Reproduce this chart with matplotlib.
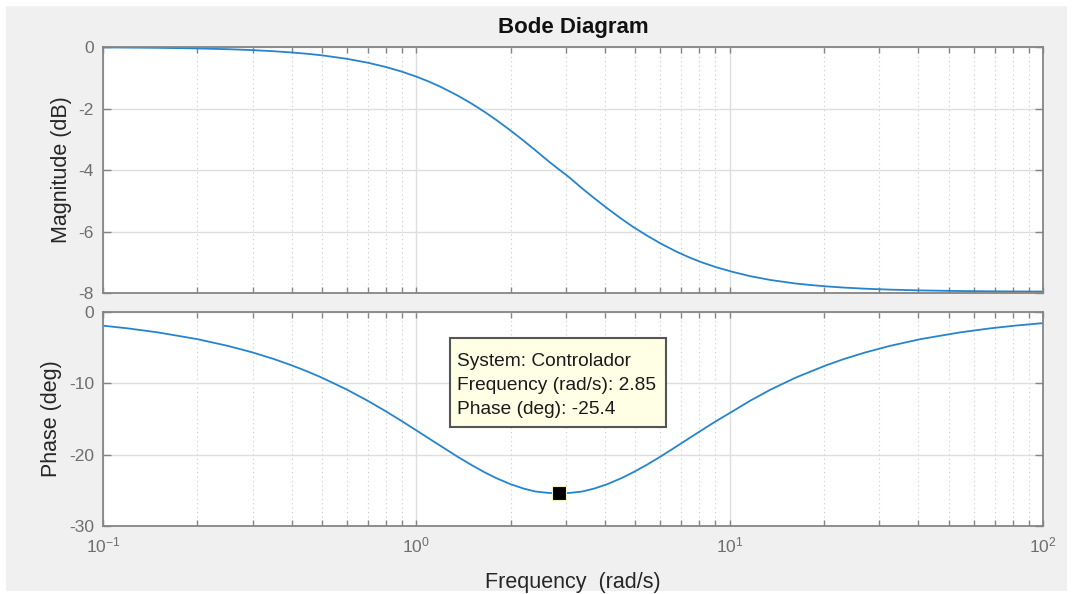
import numpy as np
import matplotlib
matplotlib.use('Agg')
import matplotlib.pyplot as plt
from matplotlib.patches import Rectangle

# Bode data (Controlador)
freq = [0.1, 0.12, 0.15, 0.2, 0.25, 0.3, 0.35, 0.4, 0.45, 0.5, 0.6, 0.7, 0.8, 0.9,
	1.0, 1.1, 1.2, 1.35, 1.5, 1.65, 1.8, 2.0, 2.2, 2.4, 2.65, 2.85,
	3.07, 3.38, 3.69, 4.06, 4.51, 4.92, 5.42, 6.02, 6.77, 7.38, 8.12, 9.03, 10.2,
	11.6, 13.5, 16.2, 18.1, 20.3, 23.2, 27.1, 32.5, 40.6, 54.2, 67.7, 81.2, 100.0]
mag_db = [-0.011, -0.016, -0.025, -0.045, -0.070, -0.100, -0.136, -0.176, -0.221,
	-0.270, -0.383, -0.510, -0.650, -0.802, -0.962, -1.130, -1.303, -1.570, -1.839,
	-2.108, -2.374, -2.719, -3.049, -3.362, -3.728, -3.980,
	-4.232, -4.598, -4.911, -5.241, -5.586, -5.852, -6.121, -6.390, -6.657, -6.830,
	-6.998, -7.158, -7.310, -7.450, -7.577, -7.690, -7.739, -7.784, -7.824, -7.860,
	-7.890, -7.915, -7.935, -7.944, -7.949, -7.952]
phase_deg = [-1.92, -2.30, -2.87, -3.81, -4.75, -5.67, -6.58, -7.48, -8.36, -9.22,
	-10.88, -12.46, -13.94, -15.32, -16.60, -17.77, -18.83, -20.26, -21.46, -22.47,
	-23.30, -24.15, -24.76, -25.17, -25.37, -25.40,
	-25.37, -25.17, -24.76, -24.15, -23.30, -22.47, -21.46, -20.26, -18.83, -17.77,
	-16.60, -15.32, -13.94, -12.46, -10.88, -9.22, -8.36, -7.48, -6.58, -5.67, -4.75,
	-3.81, -2.87, -2.30, -1.92, -1.56]

mag_ticks = [0, -2, -4, -6, -8]
phase_ticks = [0, -10, -20, -30]

# data tip
tip_freq = 2.85
tip_phase = -25.4
tip_lines = ['System: Controlador', 'Frequency (rad/s): 2.85', 'Phase (deg): -25.4']


def style_axes(ax, yticks, ylen):
	ax.set_xscale('log')
	ax.set_xlim(0.1, 100)
	ax.set_ylim(min(yticks), max(yticks))
	ax.set_yticks(yticks)
	ax.set_facecolor('white')
	for sp in ax.spines.values():
		sp.set_color('#858585')
		sp.set_linewidth(1.3)
	ax.xaxis.grid(True, which='major', color='#dedede', lw=1.0, ls='-')
	ax.xaxis.grid(True, which='minor', color='#c9c9c9', lw=0.8, ls=(0, (1, 3)))
	ax.yaxis.grid(True, which='major', color='#dedede', lw=1.0, ls='-')
	ax.tick_params(which='both', direction='in', top=True, right=True,
		colors='#858585', labelcolor='#6e6e6e', labelsize=12.5, width=1.0)
	ax.tick_params(axis='x', which='major', length=4)
	ax.tick_params(axis='x', which='minor', length=4)
	ax.tick_params(axis='y', which='major', length=ylen, pad=6.5)
	ax.tick_params(axis='y', which='minor', left=False, right=False)
	ax.set_axisbelow(True)


def main():
	plt.rcParams['font.family'] = ['Liberation Sans', 'DejaVu Sans']
	plt.rcParams['mathtext.fontset'] = 'custom'
	plt.rcParams['mathtext.rm'] = 'Liberation Sans'
	plt.rcParams['mathtext.default'] = 'regular'
	plt.rcParams['axes.unicode_minus'] = False

	fig = plt.figure(figsize=(10.87, 5.94), dpi=100)
	fig.patch.set_facecolor('white')
	fig.add_artist(Rectangle((0.0055, 0.005), 0.976, 0.985, transform=fig.transFigure,
		facecolor='#f0f0f0', edgecolor='none', zorder=-10))

	ax1 = fig.add_axes([0.0948, 0.5067, 0.8648, 0.4141])
	ax2 = fig.add_axes([0.0948, 0.1145, 0.8648, 0.3603])

	line_color = '#2684cc'
	ax1.plot(freq, mag_db, color=line_color, lw=1.3)
	ax2.plot(freq, phase_deg, color=line_color, lw=1.3)

	style_axes(ax1, mag_ticks, 6)
	style_axes(ax2, phase_ticks, 6)
	ax1.tick_params(axis='x', labelbottom=False)
	ax2.tick_params(axis='x', which='major', pad=6.5)

	ax1.set_ylabel('Magnitude (dB)', fontsize=15.5, color='#262626')
	ax2.set_ylabel('Phase (deg)', fontsize=15.5, color='#262626')
	ax1.yaxis.set_label_coords(-0.033, 0.5)
	ax2.yaxis.set_label_coords(-0.044, 0.5)
	ax2.set_xlabel('Frequency  (rad/s)', fontsize=15.5, color='#262626')
	ax2.xaxis.set_label_coords(0.5, -0.215)

	fig.text(0.527, 0.954, 'Bode Diagram', ha='center', va='center',
		fontsize=16, fontweight='bold', color='#111111')

	# data tip marker and box
	ax2.plot([tip_freq], [tip_phase], marker='s', color='black', markersize=10.5,
		markeredgecolor='#f5f0c0', markeredgewidth=0.8, zorder=5)
	ax2.add_patch(Rectangle((0.369, 0.4626), 0.2296, 0.4159, transform=ax2.transAxes,
		facecolor='#ffffe6', edgecolor='#555555', lw=1.5, zorder=6))
	ax2.text(0.3766, 0.658, '\n'.join(tip_lines), transform=ax2.transAxes,
		ha='left', va='center', fontsize=13.8, color='#1a1a1a', linespacing=1.55, zorder=7)

	fig.savefig('out.png', dpi=100, facecolor=fig.get_facecolor())


if __name__ == "__main__":
	main()
